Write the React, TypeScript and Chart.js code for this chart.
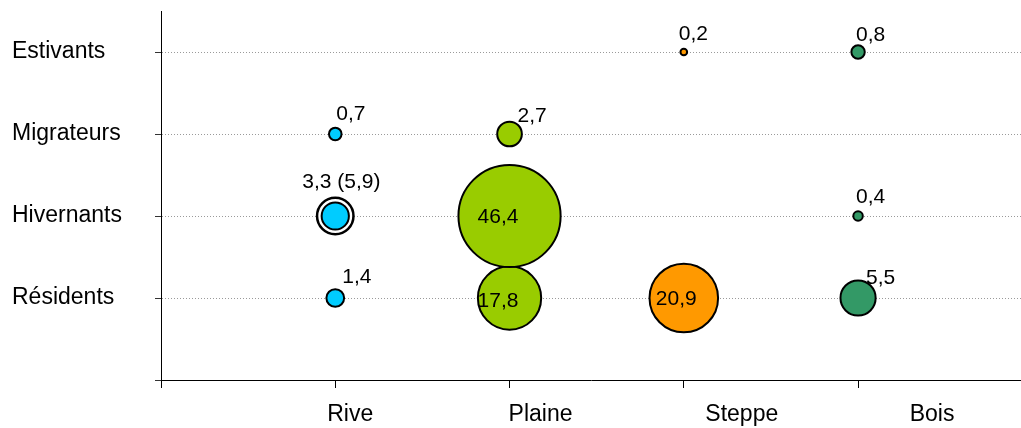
import React, { useEffect, useRef } from 'react';
import { Chart, registerables } from 'chart.js';

Chart.register(...registerables);

// ---- data ----
const categories = ['Rive', 'Plaine', 'Steppe', 'Bois'];
const groups = ['Résidents', 'Hivernants', 'Migrateurs', 'Estivants'];
const riveValues = [1.4, 3.3, 0.7, null];
const plaineValues = [17.8, 46.4, 2.7, null];
const steppeValues = [20.9, null, null, 0.2];
const boisValues = [5.5, 0.4, null, 0.8];
const riveTotalValues = [null, 5.9, null, null];

// ---- styles ----
const FONT = "'Liberation Sans', Arial, sans-serif";
const K = 7.5; // px per sqrt(value)
const colors = ['#00CCFF', '#99CC00', '#FF9900', '#339966'];
// label offsets (text left, baseline) relative to bubble centre, per category / group
const labelOffsets: (number[] | null)[][] = [
  [[7, -15], [-33, -28], [1, -14], null],
  [[-32, 9], [-32, 7], [8, -12], null],
  [[-28, 7], null, null, [-5, -12]],
  [[8, -14], [-2, -13], null, [-2, -11]],
];
const xLabelShift = [15, 31, 58, 74];

const fmt = (v: number) => v.toFixed(1).replace('.', ',');

function buildPoints(values: (number | null)[], catIndex: number, withLabel: boolean) {
  const pts: any[] = [];
  values.forEach((v, gi) => {
    if (v == null) return;
    let label = withLabel ? fmt(v) : null;
    if (withLabel && riveTotalValues[gi] != null && catIndex === 0) {
      label = `${fmt(v)} (${fmt(riveTotalValues[gi] as number)})`;
    }
    pts.push({ x: catIndex + 1, y: gi + 1, r: K * Math.sqrt(v), v, label, off: labelOffsets[catIndex][gi] });
  });
  return pts;
}

const labelPlugin = {
  id: 'bubbleLabels',
  afterDatasetsDraw(chart: any) {
    const ctx = chart.ctx;
    ctx.save();
    ctx.font = `21px ${FONT}`;
    ctx.fillStyle = '#000';
    ctx.textAlign = 'left';
    ctx.textBaseline = 'alphabetic';
    chart.data.datasets.forEach((ds: any, di: number) => {
      const meta = chart.getDatasetMeta(di);
      meta.data.forEach((el: any, i: number) => {
        const p = ds.data[i];
        if (!p || !p.label || !p.off) return;
        ctx.fillText(p.label, el.x + p.off[0], el.y + p.off[1]);
      });
    });
    ctx.restore();
  },
  afterDraw(chart: any) {
    const ctx = chart.ctx;
    const xs = chart.scales.x;
    ctx.save();
    ctx.font = `23px ${FONT}`;
    ctx.fillStyle = '#000';
    ctx.textAlign = 'center';
    ctx.textBaseline = 'alphabetic';
    categories.forEach((c, i) => {
      ctx.fillText(c, xs.getPixelForValue(i + 1) + xLabelShift[i], xs.bottom - 7);
    });
    ctx.restore();
  },
};

const onlyIntegers = (s: any) => {
  s.ticks = s.ticks.filter((t: any) => Number.isInteger(t.value));
};

export default function App() {
  const ref = useRef<HTMLCanvasElement | null>(null);
  useEffect(() => {
    if (!ref.current) return;
    const seriesValues = [riveValues, plaineValues, steppeValues, boisValues];
    const datasets: any[] = seriesValues.map((vals, ci) => ({
      label: categories[ci],
      data: buildPoints(vals, ci, true),
      backgroundColor: colors[ci],
      borderColor: '#000',
      borderWidth: 2,
      clip: false,
    }));
    datasets.push({
      label: 'Rive total',
      data: buildPoints(riveTotalValues, 0, false),
      backgroundColor: '#FFFFFF',
      borderColor: '#000',
      borderWidth: 2.5,
      clip: false,
    });
    const chart = new Chart(ref.current, {
      type: 'bubble',
      data: { datasets },
      plugins: [labelPlugin],
      options: {
        responsive: false,
        maintainAspectRatio: false,
        animation: false,
        events: [],
        devicePixelRatio: 1,
        layout: { autoPadding: false, padding: { left: 12, top: 11, right: 0, bottom: 0 } },
        plugins: { legend: { display: false }, tooltip: { enabled: false } },
        scales: {
          x: {
            type: 'linear',
            min: 0,
            max: 4.935,
            afterBuildTicks: onlyIntegers,
            afterFit: (s: any) => {
              s.height = 48;
              s.paddingLeft = 0;
              s.paddingRight = 0;
            },
            ticks: { display: false, stepSize: 1 },
            grid: {
              drawOnChartArea: false,
              drawTicks: true,
              tickLength: 8,
              tickColor: '#000',
              tickWidth: 1,
            },
            border: { display: true, color: '#000', width: 1 },
          },
          y: {
            type: 'linear',
            min: 0,
            max: 4.5,
            afterBuildTicks: onlyIntegers,
            afterFit: (s: any) => {
              s.width = 149;
              s.paddingTop = 0;
              s.paddingBottom = 0;
            },
            ticks: {
              stepSize: 1,
              crossAlign: 'far',
              color: '#000',
              font: { family: FONT, size: 23 },
              callback: (v: any) => groups[Number(v) - 1] ?? '',
            },
            grid: {
              color: (c: any) => (c.tick && c.tick.value === 0 ? 'rgba(0,0,0,0)' : '#9a9a9a'),
              lineWidth: 1,
              drawTicks: true,
              tickLength: 6,
              tickColor: '#333',
              tickWidth: 1,
              tickBorderDash: [],
            },
            border: { display: true, color: '#000', width: 1, dash: [1, 2] },
          },
        },
      } as any,
    });
    return () => chart.destroy();
  }, []);
  return (
    <div style={{ position: 'fixed', left: 0, top: 0, width: 1021, height: 428, background: '#fff' }}>
      <canvas ref={ref} width={1021} height={428} style={{ display: 'block' }} />
    </div>
  );
}
